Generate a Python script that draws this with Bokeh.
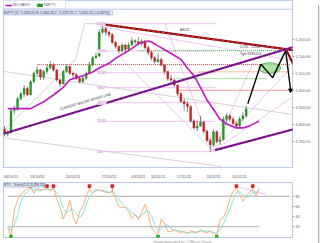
from bokeh.plotting import figure
from bokeh.models import (Range1d, FixedTicker, NumeralTickFormatter, ColumnDataSource,
                          Label, LabelSet, Legend, LegendItem, Title, Div)
from bokeh.layouts import column, row
from bokeh.embed import file_html
from bokeh.resources import INLINE
from bokeh.core.properties import value

FONT = "Liberation Sans"

# ---------------- price data (half-day bars, NIFTY Oct-Dec 2011) ----------------
first_open = 4772
close = [4745, 4751, 4880, 4888, 4950, 4979, 5010, 4974, 5050, 5099,
         5120, 5077, 5110, 5132, 5150, 5118, 5060, 5037, 5110, 5139,
         5100, 5091, 5070, 5049, 5070, 5098, 5150, 5191, 5201, 5340,
         5360, 5340, 5326, 5280, 5258, 5230, 5265, 5240, 5265, 5290,
         5284, 5275, 5289, 5250, 5221, 5190, 5168, 5180, 5148, 5110,
         5068, 5060, 5030, 4980, 4934, 4920, 4905, 4820, 4778, 4790,
         4812, 4760, 4706, 4680, 4756, 4700, 4710, 4830, 4851, 4830,
         4805, 4790, 4832, 4850, 4890]
high = [4790, 4765, 4895, 4910, 4960, 4990, 5030, 5020, 5060, 5110,
        5140, 5125, 5120, 5150, 5170, 5160, 5125, 5070, 5120, 5150,
        5140, 5110, 5100, 5080, 5085, 5110, 5165, 5200, 5220, 5355,
        5399, 5370, 5350, 5335, 5290, 5260, 5275, 5270, 5280, 5310,
        5300, 5310, 5300, 5295, 5260, 5230, 5200, 5215, 5190, 5150,
        5115, 5090, 5070, 5035, 4990, 4950, 4935, 4910, 4830, 4820,
        4850, 4820, 4770, 4720, 4770, 4765, 4730, 4845, 4865, 4860,
        4845, 4820, 4845, 4870, 4910]
low = [4730, 4728, 4745, 4860, 4880, 4940, 4960, 4965, 4970, 5040,
       5080, 5060, 5060, 5095, 5120, 5110, 5050, 5020, 5035, 5100,
       5090, 5070, 5060, 5040, 5045, 5060, 5095, 5140, 5185, 5195,
       5330, 5320, 5310, 5270, 5245, 5215, 5225, 5215, 5230, 5260,
       5270, 5265, 5260, 5240, 5205, 5175, 5155, 5160, 5140, 5095,
       5055, 5040, 5020, 4965, 4925, 4880, 4870, 4810, 4770, 4760,
       4785, 4745, 4695, 4639, 4670, 4690, 4680, 4705, 4810, 4815,
       4795, 4775, 4780, 4820, 4840]
bar_x = list(range(len(close)))

ma_x = [1, 8, 12, 15, 18, 20, 24, 27, 29, 32, 34, 38, 41, 44, 45, 47, 51, 54, 56, 58,
        60, 62, 64, 66, 68, 71, 73, 75, 78]
ma_y = [4892, 4892, 4932, 4972, 5017, 5062, 5085, 5107, 5130, 5158, 5187, 5232, 5272,
        5289, 5283, 5260, 5215, 5181, 5130, 5085, 5017, 4943, 4887, 4830, 4802, 4779,
        4779, 4791, 4819]

date_ticks = [2, 10, 21, 32, 41, 47, 55, 64, 72]
date_labels = ["06/10/11", "13/10/11", "20/10/11", "27/10/11", "03/11/11",
               "10/11/11", "17/11/11", "24/11/11", "01/12/11"]
price_ticks = [4700, 4800, 4900, 5000, 5100, 5200, 5300]
panel_top = 5475

# Fibonacci retracement
fib_levels = [5390, 5230, 5103, 5015, 4927, 4817, 4640]
fib_labels = ["100%", "78.6%", "61.8%", "50%", "38.2%", "23.6%", "0%"]
fib_start, fib_end = 28.5, 64.5

# drawn trend lines (bar index, price)
maroon_x, maroon_y = [28.5, 93.6], [5390, 5221]
rising_x, rising_y = [-1.2, 93.6], [4740, 5283]
lower_x, lower_y = [64.5, 95.8], [4649, 4808]
gray_lines = [([-1.2, 95.8], [5113, 4836]),
              ([-1.2, 66.4], [4723, 4553]),
              ([-1.2, 21.8, 24.5, 28.8], [4745, 5181, 5390, 5390])]
pink_lines = [([29.1, 88.2], [5374, 5175]),
              ([49.1, 63.9], [5390, 4643]),
              ([34.2, 63.9], [5215, 4643]),
              ([63.9, 77.0], [4643, 5198]),
              ([63.9, 87.6], [4643, 5130]),
              ([63.9, 88.2], [4643, 4960])]
h_levels = [5150, 5108, 5068, 5000, 5232]
h_start = [10, 59.4, 52.7, 52.7, 41.2]
h_end = [87.6, 87.6, 80, 87.6, 87.6]
h_color = ["#e03030", "#f08030", "#40c040", "#e03030", "#40c040"]

proj_x = [74.5, 78.5, 82.1, 86.1, 87.6]
proj_y = [4921, 5153, 5074, 5232, 5000]
arrow_x = [86.4, 91.5]
arrow_y = [5232, 5028]

# ---------------- stochastic ----------------
stoch_x = list(range(1, 79))
stoch_k = [18, 2, 53, 72, 83, 90, 95, 97, 86, 95, 93, 93, 97, 90, 97, 75, 59, 35, 50, 72,
           40, 25, 50, 60, 80, 94, 86, 94, 92, 90, 88, 87, 90, 76, 60, 58, 58, 50, 36, 44,
           34, 48, 64, 45, 18, 10, 4, 35, 28, 10, 11, 14, 10, 9, 10, 6, 12, 10, 8, 14,
           10, 8, 12, 6, 3, 34, 37, 52, 75, 90, 96, 84, 70, 80, 88, 93, 80, 96]
stoch_d = [22, 12, 24, 42, 69, 82, 89, 94, 93, 93, 91, 94, 94, 93, 95, 87, 77, 56, 48, 52,
           54, 46, 38, 45, 63, 78, 87, 91, 91, 92, 90, 88, 88, 84, 75, 65, 59, 55, 48, 43,
           38, 42, 49, 52, 42, 24, 11, 16, 22, 24, 16, 12, 12, 11, 10, 8, 9, 9, 10, 11,
           11, 11, 10, 9, 7, 14, 25, 41, 55, 72, 87, 90, 83, 78, 79, 87, 87, 90]
sell_bars = [8, 13, 15, 26, 33, 71, 76]
buy_bars = [2, 47, 65]
stoch_ticks = [20, 40, 60, 80]

# ---------------- price figure ----------------
xr = Range1d(-0.303, 88.18)
p = figure(width=313, height=181, x_range=xr, y_range=Range1d(4547, 5526),
           output_backend="svg", toolbar_location=None, y_axis_location="right",
           min_border_left=3, min_border_right=18, min_border_top=0, min_border_bottom=0)
p.grid.visible = False
p.outline_line_color = "#b8c8e6"
p.background_fill_color = "white"
p.border_fill_color = "white"

p.segment(x0=[xr.start], y0=[panel_top], x1=[xr.end], y1=[panel_top],
          color="#b8c8e6", line_width=1)

for xs, ys in gray_lines:
    p.line(xs, ys, color="#c8bcc8", line_width=0.7)
for xs, ys in pink_lines:
    p.line(xs, ys, color="#eab0ea", line_width=0.7)
p.segment(x0=[fib_start] * len(fib_levels), y0=fib_levels,
          x1=[fib_end] * len(fib_levels), y1=fib_levels, color="#efb4ef", line_width=0.8)
p.segment(x0=h_start, y0=h_levels, x1=h_end, y1=h_levels, color=h_color,
          line_width=1, line_dash="1 1")

opens = [first_open] + close[:-1]
p.segment(x0=bar_x, y0=low, x1=bar_x, y1=high, color="#333333", line_width=0.6)
up_i = [i for i in bar_x if close[i] >= opens[i]]
dn_i = [i for i in bar_x if close[i] < opens[i]]
up_r = p.vbar(x=up_i, top=[close[i] for i in up_i], bottom=[opens[i] for i in up_i],
              width=0.62, fill_color="#22a022", line_color="#156f15", line_width=0.3)
p.vbar(x=dn_i, top=[opens[i] for i in dn_i], bottom=[close[i] for i in dn_i],
       width=0.62, fill_color="#d42020", line_color="#8a1010", line_width=0.3)

ma_r = p.line(ma_x, ma_y, color="#c018c0", line_width=1.6)

p.ellipse(x=[81.2], y=[5130], width=6.7, height=62, fill_color="#8fdc8f",
          fill_alpha=0.75, line_color="#2e8b2e", line_width=0.6)

p.line(maroon_x, maroon_y, color="#7a0a0a", line_width=2.2)
p.line(maroon_x, maroon_y, color="#ff3030", line_width=1, line_dash="3 2")
p.line(rising_x, rising_y, color="#8a1a9a", line_width=2.2)
p.line(rising_x, rising_y, color="#3a0a4a", line_width=0.8, line_dash="2 3")
p.line(lower_x, lower_y, color="#8a1a9a", line_width=2.2)
p.line(lower_x, lower_y, color="#3a0a4a", line_width=0.8, line_dash="2 3")

p.line(proj_x, proj_y, color="black", line_width=1.4)
p.scatter([proj_x[-1]], [proj_y[-1]], marker="inverted_triangle", size=4, color="black")
p.line(arrow_x, arrow_y, color="#8b0000", line_width=2)

fib_src = ColumnDataSource(dict(x=[fib_start] * len(fib_levels), y=fib_levels, t=fib_labels))
p.add_layout(LabelSet(x="x", y="y", text="t", source=fib_src, text_font_size="3.5px",
                      text_color="#c050c0", text_baseline="middle", text_font=FONT,
                      background_fill_color="#fdf0fd"))

p.text(x=[24.8], y=[4932], text=["CURRENT MAJOR RISING LINE"], angle=0.29,
       text_align="center", text_baseline="middle", text_font_size="3.6px",
       text_color="#333333", text_font=value(FONT))
p.text(x=[55.2], y=[5351], text=["ABCD"], text_align="center", text_baseline="middle",
       text_font_size="3.4px", text_color="#444444", text_font=value(FONT))
p.text(x=[72.1, 72.1], y=[5252, 5212], text=["5,231 - 5,250", "Tgts 5270-5.3"],
       text_align="left", text_baseline="middle", text_font_size="3.4px",
       text_color="#333333", text_font=value(FONT))

p.add_layout(Label(x=-0.2, y=5465,
                   text="NIFTY [D: 5,028.20  H: 5,060.20  L: 5,028.20  C: 5,050.20 (+0.00%)]",
                   text_font_size="3.6px", text_baseline="top", text_color="#445",
                   text_font=FONT, background_fill_color="#dfe7f7",
                   border_line_color="#b8c8e6"))

legend = Legend(items=[LegendItem(label="MOVAVG", renderers=[ma_r]),
                       LegendItem(label="NIFTY", renderers=[up_r])],
                orientation="horizontal", location="top_left",
                label_text_font_size="4px", label_text_font=FONT, label_text_color="#666",
                glyph_height=4, glyph_width=7, label_height=4, label_standoff=1,
                spacing=3, padding=1, margin=0, border_line_color="#b8c8e6")
p.add_layout(legend)

p.xaxis.ticker = FixedTicker(ticks=date_ticks)
p.xaxis.major_label_overrides = {t: l for t, l in zip(date_ticks, date_labels)}
p.xaxis.major_label_text_font_size = "3.8px"
p.xaxis.major_label_text_font = FONT
p.xaxis.major_label_text_color = "#555"
p.xaxis.axis_line_color = None
p.xaxis.major_tick_line_color = None
p.xaxis.minor_tick_line_color = None
p.xaxis.major_label_standoff = 1

p.yaxis.ticker = FixedTicker(ticks=price_ticks)
p.yaxis.formatter = NumeralTickFormatter(format="0,0.00")
p.yaxis.major_label_text_font_size = "3.8px"
p.yaxis.major_label_text_font = FONT
p.yaxis.major_label_text_color = "#666"
p.yaxis.axis_line_color = None
p.yaxis.major_tick_line_color = "#aaa"
p.yaxis.major_tick_in = 0
p.yaxis.major_tick_out = 2
p.yaxis.minor_tick_line_color = None
p.yaxis.major_label_standoff = 1

# ---------------- stochastic figure ----------------
s = figure(width=313, height=62, x_range=xr, y_range=Range1d(-1.3, 107.1),
           output_backend="svg", toolbar_location=None, y_axis_location="right",
           x_axis_location=None, min_border_left=3, min_border_right=18,
           min_border_top=1, min_border_bottom=0)
s.grid.visible = False
s.outline_line_color = "#b8c8e6"
s.segment(x0=[0.9, 0.9], y0=[80, 20], x1=[87.5, 78], y1=[80, 20], color="#a8a8a8",
          line_width=0.9)
s.line(stoch_x, stoch_d, color="#7fe8ec", line_width=1)
s.line(stoch_x, stoch_k, color="#f5a860", line_width=0.9)
s.line([70.5, 80], [100, 84], color="#eaa8ea", line_width=0.7)
sell_vals = [stoch_k[stoch_x.index(b)] for b in sell_bars]
s.segment(x0=sell_bars, y0=sell_vals, x1=sell_bars, y1=[100] * len(sell_bars),
          color="#e02020", line_width=0.6)
s.scatter(sell_bars, [100] * len(sell_bars), marker="square", size=2.6, color="#e02020")
s.scatter(buy_bars, [0.5] * len(buy_bars), marker="square", size=2.6, color="#20b020")

s.add_layout(Label(x=-0.2, y=106, text="STO - Stoch(5,3,3) [96.55]",
                   text_font_size="3.5px", text_baseline="top", text_color="#445",
                   text_font=FONT, background_fill_color="#dfe7f7",
                   border_line_color="#b8c8e6"))

s.yaxis.ticker = FixedTicker(ticks=stoch_ticks)
s.yaxis.major_label_text_font_size = "3.8px"
s.yaxis.major_label_text_font = FONT
s.yaxis.major_label_text_color = "#666"
s.yaxis.axis_line_color = None
s.yaxis.major_tick_line_color = "#aaa"
s.yaxis.major_tick_in = 0
s.yaxis.major_tick_out = 2
s.yaxis.minor_tick_line_color = None
s.yaxis.major_label_standoff = 1

s.add_layout(Title(text="Image generated by COMcast Charts", text_font_size="3.5px",
                   text_font_style="normal", text_color="#999", align="left",
                   offset=150, standoff=0, text_font=FONT), "below")

strip = Div(width=7, height=243,
            styles={"background-color": "#ececec", "border-left": "1px solid #b0b0b0",
                    "box-sizing": "border-box"})

layout = row(column(p, s), strip)
open("out.html", "w").write(file_html(layout, INLINE))
